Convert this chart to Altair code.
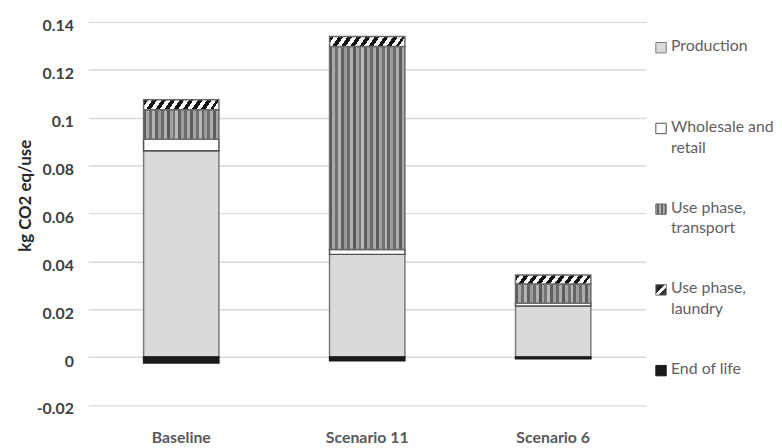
import altair as alt
import pandas as pd

# ---- data ----
scenarios = ["Baseline", "Scenario 11", "Scenario 6"]
components = ["Production", "Wholesale and retail", "Use phase, transport",
              "Use phase, laundry", "End of life"]
production = [0.0862, 0.0429, 0.0213]
wholesale = [0.0048, 0.0020, 0.0012]
transport = [0.0123, 0.0848, 0.0080]
laundry = [0.0042, 0.0042, 0.0038]
end_of_life = [-0.0025, -0.0015, -0.0007]
y_ticks = [-0.02, 0, 0.02, 0.04, 0.06, 0.08, 0.1, 0.12, 0.14]
legend_labels = ["Production", "Wholesale and\nretail", "Use phase,\ntransport",
                 "Use phase,\nlaundry", "End of life"]

series = [production, wholesale, transport, laundry, end_of_life]
rows = []
for ci, (comp, vals) in enumerate(zip(components, series)):
    for s, v in zip(scenarios, vals):
        rows.append({"scenario": s, "component": comp, "order": ci, "value": v})
df = pd.DataFrame(rows)
leg_df = pd.DataFrame({"component": components, "label": legend_labels})

# ---- fills (styles) ----
def stripes():
    shades = ["#5a5a5a", "#a8a8a8", "#707070", "#b4b4b4", "#616161", "#9a9a9a",
              "#6c6c6c", "#b0b0b0", "#585858", "#a2a2a2", "#767676", "#bababa",
              "#606060", "#9e9e9e", "#6a6a6a", "#acacac", "#5c5c5c", "#a4a4a4",
              "#727272", "#b6b6b6", "#646464", "#9c9c9c", "#6e6e6e", "#aeaeae",
              "#5e5e5e", "#a6a6a6"]
    n = len(shades)
    stops = []
    for i, c in enumerate(shades):
        stops.append({"offset": i / n, "color": c})
        stops.append({"offset": (i + 1) / n, "color": c})
    return {"gradient": "linear", "x1": 0, "y1": 0, "x2": 1, "y2": 0, "stops": stops}


def hatch(k=0.09, period=0.12, frac=0.5):
    stops = []
    t = 0.0
    while t < 1.2:
        a, b = t, t + period * frac
        stops += [{"offset": min(a, 1), "color": "#111111"},
                  {"offset": min(b, 1), "color": "#111111"},
                  {"offset": min(b, 1), "color": "#ffffff"},
                  {"offset": min(t + period, 1), "color": "#ffffff"}]
        t += period
    return {"gradient": "linear", "x1": 0, "y1": 0, "x2": 1, "y2": k, "stops": stops}


legend_hatch = {"gradient": "linear", "x1": 0, "y1": 0, "x2": 1, "y2": 1,
                "stops": [{"offset": 0, "color": "#222222"},
                          {"offset": 0.42, "color": "#222222"},
                          {"offset": 0.42, "color": "#ffffff"},
                          {"offset": 0.6, "color": "#ffffff"},
                          {"offset": 0.6, "color": "#333333"},
                          {"offset": 1, "color": "#333333"}]}

styles = {
    "Production": dict(fill="#d9dadc", stroke="#7a7a7a"),
    "Wholesale and retail": dict(fill="#ffffff", stroke="#505050"),
    "Use phase, transport": dict(fill=stripes(), stroke="#6a6a6a"),
    "Use phase, laundry": dict(fill=hatch(), stroke="#6a6a6a"),
    "End of life": dict(fill="#1a1a1a", stroke="#1a1a1a"),
}
legend_fill = {c: styles[c]["fill"] for c in components}
legend_fill["Use phase, laundry"] = legend_hatch

FONT = "Lato"

x_enc = alt.X("scenario:N", sort=scenarios,
              scale=alt.Scale(paddingInner=0.595, paddingOuter=0.2975),
              axis=alt.Axis(title=None, labelAngle=0, ticks=False, domain=False,
                            labelFont=FONT, labelFontSize=16, labelFontWeight="bold",
                            labelColor="#595959", labelPadding=25))
y_enc = alt.Y("y0:Q", scale=alt.Scale(domain=[-0.02, 0.14], nice=False, zero=False),
              axis=alt.Axis(title="kg CO2 eq/use", values=y_ticks, ticks=False, domain=False,
                            labelExpr="replace(format(datum.value, '~g'), '\u2212', '-')",
                            labelFont=FONT, labelFontSize=16, labelFontWeight="bold",
                            labelColor="#404040", labelPadding=15, labelOffset=4,
                            gridColor="#d9d9d9", gridWidth=1.5,
                            titleFont=FONT, titleFontSize=17, titleFontWeight="bold",
                            titleColor="#262626", titleX=-63, titleY=175,
                            titleBaseline="middle", titleAngle=-90))

base = alt.Chart(df).transform_stack(
    stack="value", groupby=["scenario"],
    sort=[alt.SortField("order", order="ascending")], as_=["y0", "y1"])

layers = []
for comp in components:
    st = styles[comp]
    layers.append(
        base.transform_filter(alt.datum.component == comp)
        .mark_bar(fill=st["fill"], stroke=st["stroke"], strokeWidth=1.5)
        .encode(x=x_enc, y=y_enc, y2="y1:Q")
    )
main = alt.layer(*layers).properties(width=563, height=386.6)

leg_y = alt.Y("component:N", sort=components,
              scale=alt.Scale(type="point", padding=0.32), axis=None)
leg_layers = []
for comp in components:
    st = styles[comp]
    leg_layers.append(
        alt.Chart(leg_df).transform_filter(alt.datum.component == comp)
        .mark_square(size=110, fill=legend_fill[comp], stroke=st["stroke"], strokeWidth=1,
                     opacity=1)
        .encode(x=alt.value(6), y=leg_y)
    )
leg_layers.append(
    alt.Chart(leg_df).mark_text(align="left", baseline="top", dy=-9.5, lineBreak="\n",
                                lineHeight=21, font=FONT, fontSize=16, color="#606060")
    .encode(x=alt.value(16), y=leg_y, text="label:N")
)
legend = alt.layer(*leg_layers).properties(width=100, height=378)

chart = (
    alt.hconcat(main, legend, spacing=7)
    .properties(padding={"left": 9, "top": 8, "right": 0, "bottom": 0},
                background="#ffffff")
    .configure_view(strokeWidth=0)
)

chart.save("out.html", embed_options={"renderer": "svg", "actions": False})
